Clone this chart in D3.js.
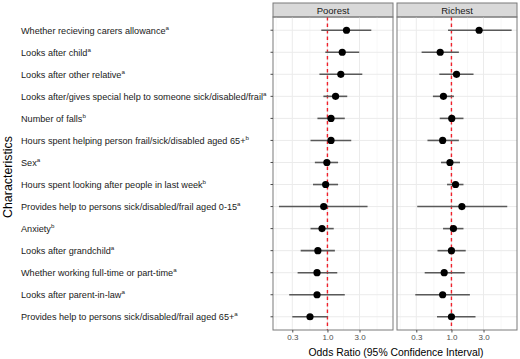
<!DOCTYPE html>
<html>
<head>
<meta charset="utf-8">
<script src="https://cdn.jsdelivr.net/npm/d3@7"></script>
<style>
body { margin:0; background:#fff; }
svg { font-family: "Liberation Sans", Arial, sans-serif; }
</style>
</head>
<body>
<div id="chart"></div>
<script>
// row labels (top to bottom) and their footnote letters
var labels = [
  "Whether recieving carers allowance",
  "Looks after child",
  "Looks after other relative",
  "Looks after/gives special help to someone sick/disabled/frail",
  "Number of falls",
  "Hours spent helping person frail/sick/disabled aged 65+",
  "Sex",
  "Hours spent looking after people in last week",
  "Provides help to persons sick/disabled/frail aged 0-15",
  "Anxiety",
  "Looks after grandchild",
  "Whether working full-time or part-time",
  "Looks after parent-in-law",
  "Provides help to persons sick/disabled/frail aged 65+"
];
var notes = ["a","a","a","a","b","b","a","b","a","b","a","a","a","a"];

var panels = ["Poorest", "Richest"];

// odds ratios and 95% CI per panel
var poorOR  = [1.92, 1.66, 1.58, 1.32, 1.13, 1.13, 0.98, 0.94, 0.88, 0.83, 0.72, 0.70, 0.70, 0.55];
var poorLo  = [0.81, 0.93, 0.76, 0.87, 0.71, 0.56, 0.65, 0.61, 0.19, 0.56, 0.40, 0.36, 0.27, 0.30];
var poorHi  = [4.49, 2.97, 3.30, 1.97, 1.81, 2.26, 1.44, 1.44, 3.95, 1.24, 1.29, 1.40, 1.81, 1.00];
var richOR  = [2.58, 0.68, 1.19, 0.76, 1.01, 0.74, 0.95, 1.15, 1.43, 1.07, 1.00, 0.78, 0.74, 1.00];
var richLo  = [0.89, 0.36, 0.66, 0.53, 0.67, 0.44, 0.70, 0.86, 0.31, 0.75, 0.62, 0.40, 0.29, 0.61];
var richHi  = [7.86, 1.29, 2.13, 1.09, 1.51, 1.29, 1.34, 1.51, 6.76, 1.51, 1.63, 1.58, 1.88, 2.28];

var xTicks = [0.3, 1, 3];
var xMinor = [0.1732, 0.5477, 1.732, 5.477];

var W = 520, H = 359;
var svg = d3.select("#chart").append("svg").attr("width", W).attr("height", H);

var panelX = [273, 397], panelW = 120;
var plotTop = 17, plotBottom = 330, stripTop = 3;

var y = d3.scalePoint().domain(labels).range([plotTop, plotBottom]).padding(0.6);

var series = [
  {or: poorOR, lo: poorLo, hi: poorHi},
  {or: richOR, lo: richLo, hi: richHi}
];

panels.forEach(function(name, p){
  var x0 = panelX[p];
  var x = d3.scaleLog().domain([0.155, 9.44]).range([x0, x0 + panelW]);
  var g = svg.append("g");

  // strip
  g.append("rect").attr("x", x0).attr("y", stripTop).attr("width", panelW).attr("height", plotTop - stripTop)
    .attr("fill", "#d9d9d9").attr("stroke", "#7a7a7a").attr("stroke-width", 1);
  g.append("text").attr("x", x0 + panelW/2).attr("y", (stripTop + plotTop)/2 + 3.5)
    .attr("text-anchor", "middle").attr("font-size", 9.5).attr("fill", "#1a1a1a").text(name);

  // grid
  g.selectAll(".minor").data(xMinor).enter().append("line")
    .attr("x1", function(d){ return x(d); }).attr("x2", function(d){ return x(d); })
    .attr("y1", plotTop).attr("y2", plotBottom).attr("stroke", "#f2f2f2").attr("stroke-width", 0.6);
  g.selectAll(".major").data(xTicks).enter().append("line")
    .attr("x1", function(d){ return x(d); }).attr("x2", function(d){ return x(d); })
    .attr("y1", plotTop).attr("y2", plotBottom).attr("stroke", "#ebebeb").attr("stroke-width", 1);
  g.selectAll(".hgrid").data(labels).enter().append("line")
    .attr("x1", x0).attr("x2", x0 + panelW)
    .attr("y1", function(d){ return y(d); }).attr("y2", function(d){ return y(d); })
    .attr("stroke", "#ebebeb").attr("stroke-width", 1);

  // reference line
  g.append("line").attr("x1", x(1)).attr("x2", x(1)).attr("y1", plotTop).attr("y2", plotBottom)
    .attr("stroke", "#f0202a").attr("stroke-width", 1.4).attr("stroke-dasharray", "3.5,3");

  var s = series[p];
  g.selectAll(".ci").data(labels).enter().append("line")
    .attr("x1", function(d, i){ return x(s.lo[i]); })
    .attr("x2", function(d, i){ return x(s.hi[i]); })
    .attr("y1", function(d){ return y(d); }).attr("y2", function(d){ return y(d); })
    .attr("stroke", "#595959").attr("stroke-width", 1.6);
  g.selectAll(".pt").data(labels).enter().append("circle")
    .attr("cx", function(d, i){ return x(s.or[i]); })
    .attr("cy", function(d){ return y(d); })
    .attr("r", 3.6).attr("fill", "#000");

  // panel border
  g.append("rect").attr("x", x0).attr("y", plotTop).attr("width", panelW).attr("height", plotBottom - plotTop)
    .attr("fill", "none").attr("stroke", "#7a7a7a").attr("stroke-width", 1);

  // x axis
  var ax = svg.append("g").attr("transform", "translate(0," + plotBottom + ")")
    .call(d3.axisBottom(x).tickValues(xTicks).tickFormat(d3.format(".1f")).tickSize(2.5).tickPadding(2));
  ax.select(".domain").remove();
  ax.selectAll("line").attr("stroke", "#4d4d4d");
  ax.selectAll("text").attr("font-size", 8).attr("fill", "#4d4d4d").attr("font-family", "Liberation Sans, Arial, sans-serif");
});

// y axis ticks and labels
svg.selectAll(".ytick").data(labels).enter().append("line")
  .attr("x1", panelX[0] - 2.5).attr("x2", panelX[0])
  .attr("y1", function(d){ return y(d); }).attr("y2", function(d){ return y(d); })
  .attr("stroke", "#4d4d4d");

var lab = svg.selectAll(".ylab").data(labels).enter().append("text")
  .attr("x", 21).attr("y", function(d){ return y(d) + 3.3; })
  .attr("font-size", 9.15).attr("fill", "#1a1a1a");
lab.append("tspan").text(function(d){ return d; });
lab.append("tspan").attr("dy", -4).attr("font-size", 6.2).text(function(d, i){ return notes[i]; });

// axis titles
svg.append("text").attr("transform", "translate(12,177) rotate(-90)")
  .attr("text-anchor", "middle").attr("font-size", 12.4).attr("fill", "#000").text("Characteristics");
svg.append("text").attr("x", 396).attr("y", 355.5)
  .attr("text-anchor", "middle").attr("font-size", 10.4).attr("fill", "#000")
  .text("Odds Ratio (95% Confidence Interval)");
</script>
</body>
</html>
